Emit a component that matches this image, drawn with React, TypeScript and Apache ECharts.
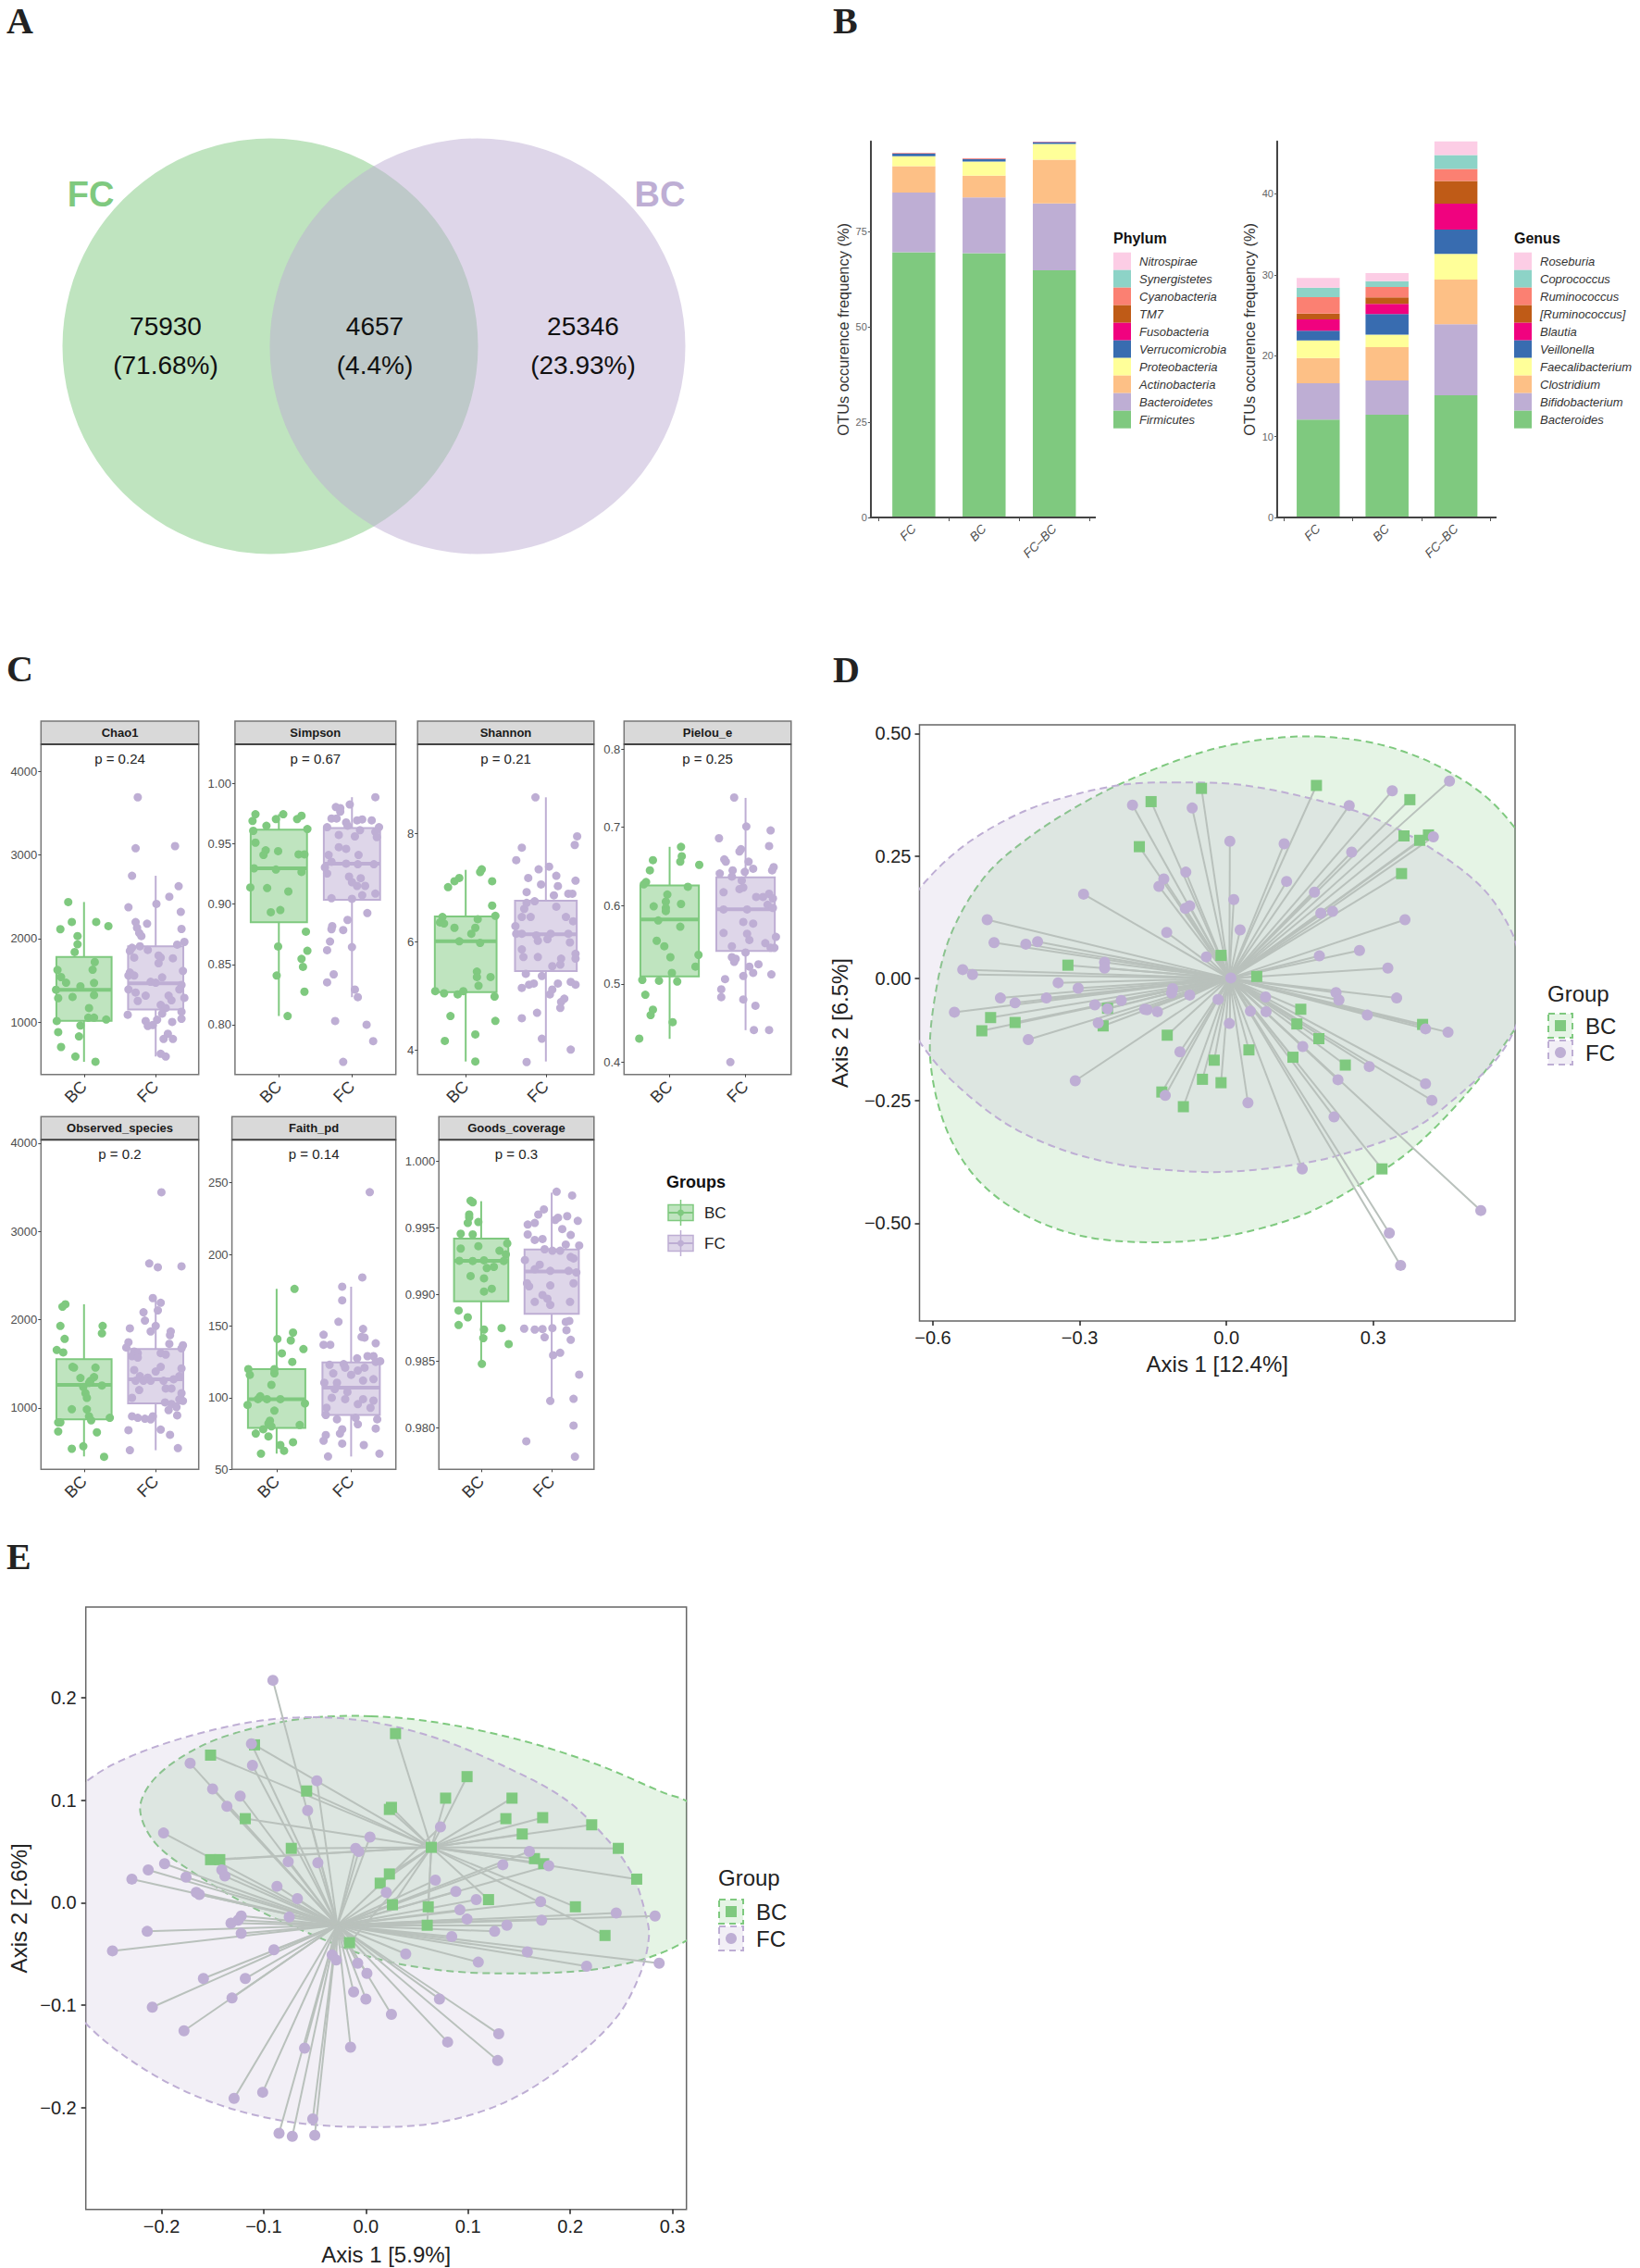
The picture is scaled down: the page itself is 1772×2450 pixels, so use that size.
import React, { useEffect, useRef } from "react";
import * as echarts from "echarts";

const GREEN = "#7FC97F";
const PURPLE = "#BEAED4";
const SPOKE = "#b9c1bc";
const SANS = "Liberation Sans";

// ---------- B: stacked bars ----------
const barGroups = ["FC", "BC", "FC–BC"];
const phylumNames = ["Firmicutes", "Bacteroidetes", "Actinobacteria", "Proteobacteria", "Verrucomicrobia", "Fusobacteria", "TM7", "Cyanobacteria", "Synergistetes", "Nitrospirae"];
const phylumValues = [
  [69.5, 69.3, 64.8], [15.7, 14.6, 17.5], [6.9, 5.7, 11.5], [2.6, 3.7, 4.1], [0.7, 0.6, 0.5],
  [0.05, 0.05, 0.05], [0.05, 0.1, 0.03], [0.03, 0.1, 0.03], [0.02, 0.02, 0.01], [0.01, 0.02, 0.01],
];
const genusNames = ["Bacteroides", "Bifidobacterium", "Clostridium", "Faecalibacterium", "Veillonella", "Blautia", "[Ruminococcus]", "Ruminococcus", "Coprococcus", "Roseburia"];
const genusValues = [
  [12.1, 12.7, 15.1], [4.5, 4.25, 8.8], [3.1, 4.12, 5.5], [2.2, 1.53, 3.2], [1.2, 2.55, 3.0],
  [1.4, 1.25, 3.2], [0.7, 0.8, 2.8], [2.05, 1.3, 1.5], [1.15, 0.7, 1.7], [1.2, 1.0, 1.7],
];
const accent = ["#7FC97F", "#BEAED4", "#FDC086", "#FFFF99", "#386CB0", "#F0027F", "#BF5B17", "#FB8072", "#8DD3C7", "#FCCDE5"];

// ---------- C: alpha diversity ----------
const chao1BC = [[.78,2438],[.83,2200],[1.17,2200],[.67,2113],[1.34,2150],[.91,2031],[.91,1932],[.87,1840],[1.15,1720],[.63,1625],[1.12,1628],[.68,1540],[.75,1473],[1.14,1470],[.95,1429],[.61,1388],[1.14,1325],[.64,1288],[.84,1303],[1.07,1170],[.62,1015],[1.06,1055],[1.14,1055],[1.31,1033],[.95,960],[.64,882],[.93,830],[.68,704],[.88,590],[1.16,527]];
const chao1FC = [[1.75,3691],[1.72,3081],[2.27,3107],[1.67,2752],[2.32,2627],[2.19,2501],[2.01,2416],[1.62,2375],[2.35,2320],[1.72,2198],[1.88,2179],[1.74,2131],[2.36,2116],[1.77,2068],[1.8,2031],[2.4,1961],[2.3,1928],[1.67,1891],[1.78,1909],[1.64,1854],[1.89,1865],[1.7,1773],[2.04,1798],[2.24,1765],[2.07,1773],[2.04,1706],[1.64,1595],[2.38,1614],[1.62,1558],[1.7,1558],[2.09,1536],[1.93,1484],[2,1473],[2.36,1447],[1.62,1392],[1.72,1355],[1.86,1318],[2.18,1318],[2.33,1392],[2.4,1292],[1.75,1255],[2.22,1262],[2.07,1207],[2.14,1170],[2.36,1126],[1.61,1089],[2.09,1103],[1.86,1015],[2.02,1030],[2.36,1041],[1.89,956],[1.96,967],[2.23,1004],[2.17,863],[2.11,800],[2.24,800],[2.07,623],[2.14,590]];
const simpsonBC = [[.68,.9746],[.64,.969],[.83,.965],[.96,.9705],[1.06,.9746],[1.25,.9705],[1.31,.9733],[.65,.9608],[1.39,.9623],[.68,.951],[.82,.9446],[.79,.9408],[.99,.944],[1.27,.9413],[1.35,.9413],[.66,.9297],[.96,.9287],[1.31,.9267],[.61,.9138],[.84,.9133],[1.13,.9105],[.89,.8933],[1.02,.8951],[1.37,.8772],[.99,.8649],[1.39,.8613],[1.31,.8546],[1.33,.848],[.97,.8408],[1.35,.8274],[1.12,.8072]];
const simpsonFC = [[2.32,.9887],[1.78,.9805],[1.84,.9797],[1.97,.9826],[1.84,.9767],[1.72,.971],[1.79,.971],[1.92,.9677],[2.07,.9695],[2.14,.9703],[2.27,.9695],[1.66,.9638],[2.37,.9638],[1.94,.9651],[2.11,.9613],[2.32,.96],[1.82,.9574],[2.04,.9562],[2.34,.9556],[1.82,.9472],[1.92,.9459],[1.68,.9408],[2.09,.9408],[1.72,.9351],[1.63,.9305],[1.92,.9336],[2.08,.9331],[2.3,.9331],[1.66,.9254],[1.96,.9228],[2.12,.9215],[2,.9182],[2.07,.9151],[2.18,.9151],[1.72,.9049],[2,.9044],[2.14,.9074],[2.32,.9087],[2.21,.8926],[1.94,.8869],[1.73,.8818],[1.72,.8792],[1.88,.8785],[1.7,.869],[2,.8644],[1.66,.8618],[1.75,.8418],[1.66,.8351],[2.04,.8292],[2.08,.8228],[1.77,.8031],[2.2,.8],[2.29,.7864],[1.88,.7692]];
const shannonBC = [[1.2,7.34],[1.18,7.29],[.92,7.18],[.86,7.12],[.78,7.01],[1.33,7.12],[1.33,6.67],[.71,6.46],[1.37,6.48],[.68,6.36],[.73,6.34],[1.15,6.42],[.86,6.26],[1.12,6.26],[1.07,6.15],[.92,6.01],[1.18,5.98],[1.14,5.45],[1.14,5.35],[1.31,5.35],[1.16,5.19],[.62,5.09],[.73,5.05],[.9,5.03],[.97,5.09],[1.36,4.99],[.81,4.63],[1.37,4.54],[.74,4.17],[1.12,4.29],[1.12,3.79]];
const shannonFC = [[1.87,8.67],[2.39,7.95],[2.36,7.79],[1.7,7.74],[1.63,7.51],[2.04,7.39],[1.91,7.34],[1.78,7.18],[2.13,7.22],[2.37,7.13],[1.94,7.06],[2.15,7.03],[1.76,6.92],[2.1,6.86],[2.28,6.89],[2.33,6.89],[1.86,6.75],[1.76,6.72],[1.73,6.61],[2.13,6.65],[2.25,6.46],[2.34,6.38],[1.62,6.29],[1.7,6.46],[1.81,6.46],[1.63,6.15],[1.7,6.15],[1.88,6.12],[2.06,6.15],[2.28,6.15],[2.3,5.99],[1.9,6.02],[2.02,6.05],[1.7,5.86],[2.37,5.78],[1.9,5.72],[1.72,5.72],[2.19,5.69],[2.18,5.58],[2.08,5.55],[2.37,5.69],[1.75,5.41],[1.95,5.37],[2.15,5.23],[2.31,5.26],[2.37,5.21],[1.85,5.23],[1.79,5.21],[1.7,5.15],[2.08,5.12],[2.05,5.03],[2.23,4.95],[2.19,4.89],[2.18,4.78],[1.89,4.69],[1.7,4.59],[1.95,4.21],[2.31,4.01],[1.76,3.78]];
const pielouBC = [[1.15,.675],[.78,.658],[1.16,.663],[1.14,.656],[1.39,.652],[.74,.645],[.69,.63],[.66,.627],[1.24,.624],[.97,.614],[.95,.605],[.79,.599],[.95,.597],[.95,.593],[1.15,.602],[.85,.581],[1.14,.573],[.83,.555],[.93,.548],[1.01,.534],[1.38,.537],[1.34,.522],[1.03,.514],[.64,.505],[.86,.504],[1.1,.503],[.68,.486],[.78,.467],[.75,.46],[1.04,.451],[.6,.43]];
const pielouFC = [[1.85,.738],[2.01,.701],[2.33,.696],[1.65,.686],[2.31,.676],[1.94,.672],[1.92,.669],[1.72,.659],[1.74,.656],[2.04,.656],[2.37,.649],[2.35,.645],[1.66,.641],[1.83,.645],[1.99,.643],[2.1,.647],[1.82,.637],[1.95,.632],[1.92,.621],[1.97,.623],[1.71,.617],[2.14,.611],[2.23,.611],[2.31,.615],[2.36,.609],[2.02,.595],[1.71,.595],[2.29,.601],[2.36,.597],[1.97,.579],[2.1,.577],[1.71,.565],[2.02,.564],[2.4,.56],[2.05,.556],[2.26,.552],[1.82,.548],[2.33,.546],[2.38,.546],[2,.54],[1.82,.534],[1.87,.532],[1.85,.528],[2.05,.522],[2.17,.525],[2.1,.514],[2.34,.512],[1.97,.51],[1.73,.506],[1.68,.493],[1.68,.483],[1.97,.48],[2.13,.472],[2.11,.441],[2.31,.441],[1.8,.4]];
const observedBC = [[.74,2175],[.7,2147],[.67,1930],[1.26,1930],[1.25,1846],[.73,1783],[.62,1657],[.71,1630],[.84,1465],[.86,1458],[1.16,1458],[.95,1339],[1.14,1350],[1.09,1308],[1.07,1283],[1.25,1255],[.99,1238],[1.02,1168],[1.04,1115],[.83,986],[1.04,983],[1.07,906],[1.1,860],[1.36,888],[.64,836],[.67,836],[.64,734],[1.18,724],[.83,538],[.99,566],[1.28,447]];
const observedFC = [[2.08,3444],[1.91,2637],[2.03,2595],[2.36,2605],[1.96,2245],[2.07,2192],[1.83,2084],[2.03,2105],[1.64,1902],[1.85,1990],[2,1930],[1.93,1867],[2.21,1867],[2.2,1825],[1.62,1745],[2.19,1727],[2.38,1710],[2.36,1675],[1.59,1685],[1.7,1640],[1.75,1622],[1.67,1587],[1.75,1570],[2.07,1622],[2.14,1605],[2.07,1465],[1.7,1430],[2.36,1448],[2,1413],[1.78,1360],[1.89,1343],[2.33,1360],[1.72,1308],[1.83,1308],[1.93,1308],[2.11,1308],[2.25,1325],[2.14,1220],[2.22,1220],[1.77,1203],[2.36,1168],[1.67,1115],[2.33,1098],[2.38,1080],[2.13,1063],[2.22,1045],[1.67,906],[1.75,888],[1.85,878],[1.93,871],[1.96,906],[2.29,1010],[2.18,976],[2.3,916],[1.62,748],[2.07,755],[2.2,696],[1.64,521],[2.31,545]];
const faithBC = [[1.24,176],[1.22,145.5],[1.01,141],[1.19,140],[1.36,134],[1.07,131],[1.21,125],[.62,120],[.64,116],[.97,120],[.97,117],[.93,109],[.78,101],[1.05,99],[.75,99],[.87,99],[.61,95],[1.38,96],[.97,91],[.91,84],[.89,82],[1.31,81],[.82,78],[.93,80],[.72,75],[.89,73],[1.05,67],[1.22,69],[1.1,63],[.79,61]];
const faithFC = [[2.25,243.5],[2.15,184],[1.88,177.5],[1.88,168],[1.83,153],[2.16,148],[1.63,144],[2.14,142.5],[2.18,142],[1.63,137],[1.72,137],[2.33,138],[2.22,129],[2.3,129],[2.08,127.5],[2.33,125],[2.39,125.5],[1.71,123],[1.9,123.5],[1.92,121],[2.09,119],[2.18,121],[1.76,117],[2,116],[1.64,110.5],[1.81,110.5],[2.16,112],[2.3,113],[1.78,106],[1.95,104],[1.74,100],[1.92,99],[2.16,99],[2.3,98],[1.67,93],[2.09,95.5],[2.26,93],[1.66,88],[1.81,85],[2.06,86],[2.35,85],[2.09,81.5],[1.88,78],[1.85,75],[2.33,78.5],[1.66,74],[1.63,70],[1.88,68],[2.17,67],[1.69,59],[2.38,61]];
const goodsBC = [[.85,.99704],[.88,.99692],[.83,.996],[.83,.99579],[.81,.99537],[.96,.99544],[.71,.99456],[.88,.99451],[1.37,.99384],[.96,.99363],[.71,.99345],[1.26,.99329],[1.35,.99301],[.69,.99254],[.88,.99252],[1.04,.99257],[1.32,.99252],[1.18,.99208],[1.08,.99199],[.85,.99139],[1.04,.99122],[1.15,.99044],[1.04,.99023],[.68,.98881],[.81,.9883],[.68,.98772],[1.04,.98738],[1.29,.98749],[1.03,.98673],[1.39,.98629],[1.01,.98481]];
const goodsFC = [[2.07,.99771],[2.29,.99743],[1.89,.99639],[1.81,.996],[1.66,.99525],[1.76,.99537],[2.09,.99576],[2.05,.9956],[2.22,.99588],[2.37,.99553],[2.15,.99491],[1.66,.99451],[2.27,.99447],[1.76,.9941],[1.87,.99417],[2.39,.99368],[2.2,.99375],[1.9,.9934],[2.01,.99329],[2.12,.99329],[1.62,.99259],[2.27,.99282],[2.31,.99271],[1.83,.99224],[1.76,.9919],[1.98,.99178],[2.24,.99178],[2.35,.99166],[1.65,.99085],[1.68,.99062],[1.98,.99069],[2.31,.99085],[1.87,.98997],[1.94,.98969],[1.76,.98946],[1.98,.98923],[2.26,.98946],[1.61,.98745],[1.76,.98738],[1.87,.98742],[2.01,.98749],[2.2,.98796],[2.25,.98803],[2.21,.98733],[1.9,.9868],[2.27,.98661],[2.02,.98546],[2.12,.98564],[2.39,.984],[1.98,.98203],[2.31,.98219],[2.31,.98019],[1.64,.97901],[2.33,.97785]];

// box stats: low whisker, Q1, median, Q3, high whisker
const chao1Box = [[527,1018,1388,1780,2438],[590,1152,1466,1909,2752]];
const simpsonBox = [[.8072,.8849,.9297,.9618,.9746],[.8228,.9036,.9336,.9631,.9887]];
const shannonBox = [[3.79,5.07,6.01,6.47,7.33],[3.79,5.46,6.14,6.76,8.67]];
const pielouBox = [[.4297,.5095,.5822,.6257,.675],[.4408,.5419,.5953,.636,.7375]];
const observedBox = [[451,871,1262,1553,2175],[521,1052,1325,1668,2234]];
const faithBox = [[61,79,99,120,176],[59,88,107,124.6,177.5]];
const goodsBox = [[.9848,.98949,.99254,.9942,.997],[.982,.98856,.99173,.99338,.99764]];

// ---------- D: PCoA ----------
const dCentre = [0.006, 0.0];
const dFC = [[.456,.403],[.339,.383],[.251,.353],[.423,.289],[.256,.258],[.118,.275],[.007,.28],[-.07,.348],[-.192,.354],[-.083,.217],[-.128,.203],[-.138,.188],[-.292,.172],[.015,.161],[.123,.198],[.18,.176],[.193,.133],[.217,.137],[.365,.12],[.028,.099],[-.075,.148],[-.084,.143],[-.122,.094],[-.489,.12],[-.475,.073],[-.41,.07],[-.386,.075],[.272,.057],[.19,.046],[-.041,.044],[-.249,.033],[-.249,.021],[.33,.021],[-.539,.018],[-.519,.008],[.009,.001],[-.344,-.009],[-.303,-.02],[-.11,-.021],[-.112,-.03],[-.075,-.034],[.08,-.038],[.224,-.029],[.23,-.044],[.348,-.04],[-.462,-.04],[-.368,-.04],[-.432,-.05],[-.215,-.045],[-.269,-.054],[-.243,-.062],[-.017,-.043],[-.167,-.063],[-.162,-.064],[-.141,-.068],[.049,-.067],[.081,-.068],[.288,-.075],[-.556,-.069],[-.262,-.091],[.006,-.092],[.407,-.103],[.453,-.11],[-.405,-.125],[.156,-.139],[-.095,-.15],[.292,-.18],[.228,-.207],[-.309,-.209],[.407,-.215],[.42,-.249],[-.125,-.239],[.044,-.254],[.22,-.283],[.155,-.389],[.52,-.474],[.333,-.52],[.356,-.586]];
const dBC = [[.184,.394],[-.051,.388],[-.154,.361],[.375,.365],[.363,.291],[.413,.293],[.395,.282],[-.178,.269],[.358,.214],[-.011,.047],[.062,.004],[-.324,.027],[-.243,-.061],[.152,-.063],[-.482,-.08],[-.432,-.09],[-.5,-.107],[-.252,-.097],[.144,-.093],[.401,-.094],[-.121,-.116],[.189,-.123],[.046,-.146],[.136,-.161],[-.025,-.167],[.243,-.177],[-.049,-.206],[-.011,-.213],[-.132,-.232],[-.088,-.262],[.318,-.389]];
const dEllipseBC = [[.187,.494],[.308,.479],[.42,.44],[.522,.378],[.59,.307],[.643,.222],[.669,.115],[.653,-.001],[.59,-.103],[.501,-.224],[.38,-.348],[.268,-.424],[.146,-.487],[-.016,-.529],[-.158,-.539],[-.3,-.525],[-.422,-.478],[-.513,-.406],[-.574,-.304],[-.605,-.17],[-.597,-.045],[-.564,.088],[-.493,.209],[-.402,.289],[-.29,.36],[-.179,.414],[-.047,.463],[.075,.488]];
const dEllipseFC = [[-.097,.4],[-.199,.397],[-.3,.378],[-.412,.342],[-.524,.28],[-.605,.209],[-.661,.133],[-.691,.044],[-.676,-.054],[-.627,-.13],[-.564,-.206],[-.453,-.295],[-.341,-.348],[-.219,-.38],[-.097,-.393],[0,-.395],[.116,-.384],[.227,-.362],[.38,-.308],[.481,-.233],[.562,-.152],[.603,-.063],[.603,.017],[.582,.097],[.522,.186],[.41,.271],[.288,.333],[.166,.369],[.024,.396]];

// ---------- E: PCoA ----------
const eCentreBC = [0.064, 0.054];
const eCentreFC = [-0.028, -0.022];
const eFC = [[-.091,.217],[-.112,.155],[-.111,.134],[-.172,.136],[-.048,.119],[-.15,.111],[-.123,.104],[-.136,.094],[-.057,.09],[-.198,.068],[.073,.074],[.004,.064],[.16,.05],[-.01,.053],[-.007,.05],[-.213,.032],[-.197,.038],[-.229,.023],[-.176,.025],[-.141,.032],[-.138,.026],[-.076,.04],[-.047,.039],[.134,.037],[.179,.036],[.068,.022],[-.087,.016],[-.166,.01],[-.163,.008],[.02,.01],[.088,.011],[-.067,.004],[.108,.003],[.171,.001],[.092,-.007],[.245,-.01],[.283,-.013],[-.122,-.013],[-.075,-.014],[-.132,-.02],[-.125,-.017],[.099,-.016],[.172,-.017],[.138,-.022],[.126,-.028],[-.214,-.028],[-.122,-.03],[.084,-.033],[-.248,-.047],[-.09,-.046],[.158,-.048],[.039,-.05],[-.033,-.051],[-.029,-.056],[-.008,-.059],[.11,-.058],[.216,-.062],[.287,-.059],[.001,-.069],[-.159,-.074],[-.118,-.074],[-.012,-.087],[0,-.094],[-.131,-.093],[.072,-.094],[-.209,-.102],[.025,-.109],[-.178,-.125],[.13,-.128],[.08,-.136],[-.06,-.142],[-.015,-.141],[.129,-.154],[-.101,-.185],[-.129,-.191],[-.052,-.211],[-.085,-.225],[-.072,-.228],[-.05,-.227]];
const eBC = [[.029,.165],[-.152,.144],[-.109,.154],[.099,.123],[-.058,.109],[.078,.102],[.143,.102],[.025,.093],[.023,.091],[-.118,.082],[.137,.082],[.173,.083],[.221,.076],[.153,.067],[.064,.054],[-.073,.053],[.247,.053],[-.152,.042],[-.143,.042],[.165,.043],[.174,.038],[.265,.023],[.023,.028],[.014,.019],[.12,.003],[.026,-.002],[.061,-.004],[.205,-.004],[.06,-.022],[.234,-.032],[-.016,-.039]];
const eEllipseBC = [[.005,.182],[.069,.176],[.15,.159],[.226,.135],[.292,.107],[.314,.099],[.353,.066],[.363,.027],[.338,-.016],[.312,-.038],[.272,-.055],[.216,-.066],[.14,-.069],[.074,-.066],[.008,-.054],[-.053,-.031],[-.114,-.003],[-.165,.027],[-.206,.058],[-.221,.092],[-.206,.122],[-.165,.151],[-.119,.168],[-.058,.18]];
const eEllipseFC = [[-.053,.181],[-.114,.176],[-.185,.159],[-.241,.138],[-.274,.118],[-.317,.079],[-.332,.019],[-.317,-.059],[-.274,-.118],[-.216,-.163],[-.15,-.195],[-.074,-.214],[.008,-.219],[.074,-.214],[.14,-.193],[.201,-.154],[.246,-.111],[.269,-.068],[.277,-.033],[.274,-.012],[.261,.027],[.236,.062],[.195,.101],[.14,.131],[.074,.159],[.008,.176]];

// ---------- layout ----------
const alphaPanels = [
  { title: "Chao1", p: "p = 0.24", rect: [44.3, 804, 170.4, 356.7], y: [375, 4325], ticks: [1000, 2000, 3000, 4000], dp: 0, box: chao1Box, bc: chao1BC, fc: chao1FC },
  { title: "Simpson", p: "p = 0.67", rect: [253.9, 804, 173.8, 356.7], y: [0.7587, 1.0326], ticks: [0.8, 0.85, 0.9, 0.95, 1], dp: 2, box: simpsonBox, bc: simpsonBC, fc: simpsonFC },
  { title: "Shannon", p: "p = 0.21", rect: [451.2, 804, 190.6, 356.7], y: [3.55, 9.65], ticks: [4, 6, 8], dp: 0, box: shannonBox, bc: shannonBC, fc: shannonFC },
  { title: "Pielou_e", p: "p = 0.25", rect: [674.3, 804, 180.5, 356.7], y: [0.3842, 0.806], ticks: [0.4, 0.5, 0.6, 0.7, 0.8], dp: 1, box: pielouBox, bc: pielouBC, fc: pielouFC },
  { title: "Observed_species", p: "p = 0.2", rect: [44.3, 1231.3, 170.4, 356], y: [304, 4038], ticks: [1000, 2000, 3000, 4000], dp: 0, box: observedBox, bc: observedBC, fc: observedFC },
  { title: "Faith_pd", p: "p = 0.14", rect: [250.6, 1231.3, 177.1, 356], y: [50, 280], ticks: [50, 100, 150, 200, 250], dp: 0, box: faithBox, bc: faithBC, fc: faithFC },
  { title: "Goods_coverage", p: "p = 0.3", rect: [474.2, 1231.3, 167.6, 356], y: [0.9769, 1.0016], ticks: [0.98, 0.985, 0.99, 0.995, 1], dp: 3, box: goodsBox, bc: goodsBC, fc: goodsFC },
];

function buildOption() {
  const grid: any[] = [];
  const xAxis: any[] = [];
  const yAxis: any[] = [];
  const series: any[] = [];
  const g: any[] = [];

  const text = (t: string, x: number, y: number, o: any = {}) => {
    g.push({
      type: "text", x, y, z: 100,
      style: { text: t, fontFamily: SANS, fill: "#1a1a1a", align: "center", verticalAlign: "middle", fontSize: 14, ...o },
    });
  };
  const addGrid = (rect: number[], show = false, border = "#777", bw = 1.5) => {
    grid.push({ left: rect[0], top: rect[1], width: rect[2], height: rect[3], show, borderColor: border, borderWidth: bw, backgroundColor: "transparent", containLabel: false });
    return grid.length - 1;
  };

  // letters
  [["A", 7, 22], ["B", 900, 22], ["C", 7, 722], ["D", 900, 723], ["E", 7, 1681]].forEach(([t, x, y]: any) =>
    text(t, x, y, { fontFamily: "Liberation Serif", fontWeight: "bold", fontSize: 40, align: "left", fill: "#222" })
  );

  // ---- A: Venn ----
  const a = addGrid([292, 150, 224, 448]);
  xAxis.push({ gridIndex: a, type: "value", min: 0, max: 1, show: false });
  yAxis.push({ gridIndex: a, type: "value", min: 0, max: 1, show: false });
  [[0, GREEN, "FC set"], [1, PURPLE, "BC set"]].forEach(([x, c, n]: any) =>
    series.push({ type: "scatter", name: n, xAxisIndex: a, yAxisIndex: a, clip: false, symbol: "circle", symbolSize: 449, silent: true, itemStyle: { color: c, opacity: 0.5 }, data: [[x, 0.5]] })
  );
  text("FC", 98, 210, { fontSize: 38, fontWeight: "bold", fill: GREEN });
  text("BC", 713, 210, { fontSize: 38, fontWeight: "bold", fill: PURPLE });
  [["75930", "(71.68%)", 179], ["4657", "(4.4%)", 405], ["25346", "(23.93%)", 630]].forEach(([v, p, x]: any) => {
    text(v, x, 352, { fontSize: 28, fill: "#111" });
    text(p, x, 394, { fontSize: 28, fill: "#111" });
  });

  // ---- B ----
  const addBars = (key: string, rect: number[], offset: number, lineEnd: number, yMax: number, ticks: number[], names: string[], values: number[][], legendLeft: number, legendTitle: string) => {
    const i = addGrid(rect);
    xAxis.push({
      gridIndex: i, type: "category", data: barGroups,
      axisLine: { show: false, onZero: false }, axisTick: { show: true, length: 4, lineStyle: { color: "#555" } },
      axisLabel: { rotate: 45, fontStyle: "italic", fontSize: 13.5, color: "#4d4d4d", margin: 10, fontFamily: SANS },
    });
    yAxis.push({
      gridIndex: i, type: "value", min: 0, max: yMax, offset, splitLine: { show: false },
      axisLine: { show: true, onZero: false, lineStyle: { color: "#444", width: 2 } },
      axisTick: { show: true, length: 3, lineStyle: { color: "#555" }, customValues: ticks },
      axisLabel: { fontSize: 11, color: "#666", margin: 4, customValues: ticks, fontFamily: SANS },
      name: "OTUs occurence frequency (%)", nameLocation: "middle", nameGap: 22,
      nameTextStyle: { fontSize: 16.4, color: "#333", fontFamily: SANS },
    });
    names.forEach((n, k) => series.push({
      type: "bar", name: n, stack: key, xAxisIndex: i, yAxisIndex: i, barWidth: 46.5,
      itemStyle: { color: accent[k] }, data: values[k],
    }));
    g.push({ type: "line", z: 100, shape: { x1: rect[0] - offset - 1, y1: rect[1] + rect[3], x2: lineEnd, y2: rect[1] + rect[3] }, style: { stroke: "#444", lineWidth: 2 } });
    text(legendTitle, legendLeft, 257, { fontSize: 16, fontWeight: "bold", align: "left", fill: "#111" });
    return {
      left: legendLeft, top: 272.7, orient: "vertical", icon: "rect", itemWidth: 19, itemHeight: 19, itemGap: 0, padding: 0,
      data: names.slice().reverse(),
      textStyle: { fontSize: 13, fontStyle: "italic", color: "#333", fontFamily: SANS, padding: [0, 0, 0, 4] },
      selectedMode: false,
    };
  };
  const legend = [
    addBars("phylum", [949.45, 152.7, 227.7, 406.3], 8.65, 1184, 98.6, [0, 25, 50, 75], phylumNames, phylumValues, 1203, "Phylum"),
    addBars("genus", [1387.1, 152.7, 223.2, 406.3], 7.1, 1617, 46.5, [0, 10, 20, 30, 40], genusNames, genusValues, 1636, "Genus"),
  ];

  // ---- C ----
  const boxSeries = (i: number, row: number[], x: number, color: string, name: string) => ({
    type: "custom", name, xAxisIndex: i, yAxisIndex: i, silent: true,
    encode: { x: 0, y: [1, 2, 3, 4, 5] },
    data: [[x, ...row]],
    renderItem: (_: any, api: any) => {
      const v = [0, 1, 2, 3, 4, 5].map((d) => api.value(d));
      const hw = 0.385;
      const tl = api.coord([v[0] - hw, v[4]]);
      const br = api.coord([v[0] + hw, v[2]]);
      const low = api.coord([v[0], v[1]]);
      const high = api.coord([v[0], v[5]]);
      const m = api.coord([v[0], v[3]]);
      const line = (x1: number, y1: number, x2: number, y2: number, w: number) => ({ type: "line", shape: { x1, y1, x2, y2 }, style: { stroke: color, lineWidth: w } });
      return {
        type: "group",
        children: [
          { type: "rect", shape: { x: tl[0], y: tl[1], width: br[0] - tl[0], height: br[1] - tl[1] }, style: { fill: color, opacity: 0.5 } },
          { type: "rect", shape: { x: tl[0], y: tl[1], width: br[0] - tl[0], height: br[1] - tl[1] }, style: { fill: "none", stroke: color, lineWidth: 2 } },
          line(m[0], high[1], m[0], tl[1], 2),
          line(m[0], br[1], m[0], low[1], 2),
          line(tl[0], m[1], br[0], m[1], 4),
        ],
      };
    },
  });
  alphaPanels.forEach((P) => {
    const i = addGrid(P.rect, true, "#777", 1.5);
    xAxis.push({
      gridIndex: i, type: "value", min: 0.4, max: 2.6, splitLine: { show: false },
      axisLine: { show: false, onZero: false },
      axisTick: { show: true, length: 3, customValues: [1, 2], lineStyle: { color: "#444" } },
      axisLabel: { customValues: [1, 2], rotate: 45, fontSize: 18, color: "#333", margin: 10, fontFamily: SANS, formatter: (v: number) => (v === 1 ? "BC" : "FC") },
    });
    yAxis.push({
      gridIndex: i, type: "value", min: P.y[0], max: P.y[1], splitLine: { show: false },
      axisLine: { show: false, onZero: false },
      axisTick: { show: true, length: 3, customValues: P.ticks, lineStyle: { color: "#444" } },
      axisLabel: { customValues: P.ticks, fontSize: 13, color: "#4d4d4d", margin: 4, fontFamily: SANS, formatter: (v: number) => v.toFixed(P.dp) },
    });
    series.push(boxSeries(i, P.box[0], 1, GREEN, P.title + " BC box"));
    series.push(boxSeries(i, P.box[1], 2, PURPLE, P.title + " FC box"));
    series.push({ type: "scatter", name: P.title + " BC", xAxisIndex: i, yAxisIndex: i, symbolSize: 9, silent: true, itemStyle: { color: GREEN, opacity: 1 }, data: P.bc });
    series.push({ type: "scatter", name: P.title + " FC", xAxisIndex: i, yAxisIndex: i, symbolSize: 9, silent: true, itemStyle: { color: PURPLE, opacity: 1 }, data: P.fc });
    const [l, t, w] = P.rect;
    g.push({ type: "rect", z: 90, shape: { x: l, y: t - 25, width: w, height: 25 }, style: { fill: "#d9d9d9", stroke: "#777", lineWidth: 1.5 } });
    g.push({ type: "line", z: 91, shape: { x1: l, y1: t, x2: l + w, y2: t }, style: { stroke: "#444", lineWidth: 2 } });
    text(P.title, l + w / 2, t - 12.5, { fontSize: 13, fontWeight: "bold" });
    text(P.p, l + w / 2, t + 15, { fontSize: 15, fill: "#222" });
  });
  // Groups legend
  text("Groups", 720, 1277, { fontSize: 18, fontWeight: "bold", align: "left", fill: "#111" });
  [["BC", GREEN, 1310], ["FC", PURPLE, 1343]].forEach(([n, c, y]: any) => {
    const kx = 735.5;
    g.push({ type: "line", z: 100, shape: { x1: kx, y1: y - 14, x2: kx, y2: y + 14 }, style: { stroke: c, lineWidth: 1.5 } });
    g.push({ type: "rect", z: 100, shape: { x: kx - 13.5, y: y - 8.5, width: 27, height: 17 }, style: { fill: c, opacity: 0.5 } });
    g.push({ type: "rect", z: 100, shape: { x: kx - 13.5, y: y - 8.5, width: 27, height: 17 }, style: { fill: "none", stroke: c, lineWidth: 1.5 } });
    g.push({ type: "line", z: 100, shape: { x1: kx - 13.5, y1: y, x2: kx + 13.5, y2: y }, style: { stroke: c, lineWidth: 2 } });
    g.push({ type: "circle", z: 101, shape: { cx: kx, cy: y, r: 3.5 }, style: { fill: c } });
    text(n, 761, y, { fontSize: 17, align: "left", fill: "#222" });
  });

  // ---- D & E ----
  const ellipse = (i: number, pts: number[][], color: string, alpha: number, name: string) => ({
    type: "custom", name, xAxisIndex: i, yAxisIndex: i, clip: true, silent: true,
    encode: { x: 0, y: 1 },
    data: pts,
    renderItem: (params: any, api: any) => {
      if (params.dataIndex !== 0) return null;
      const points = pts.map((p) => api.coord(p));
      return {
        type: "group",
        children: [
          { type: "polygon", shape: { points, smooth: 0.33 }, style: { fill: color, opacity: alpha } },
          { type: "polygon", shape: { points, smooth: 0.33 }, style: { fill: "none", stroke: color, lineWidth: 2, lineDash: [8, 5] } },
        ],
      };
    },
  });
  const spokes = (i: number, pts: number[][], c: number[], name: string) => ({
    type: "lines", name, coordinateSystem: "cartesian2d", xAxisIndex: i, yAxisIndex: i, silent: true, polyline: false,
    lineStyle: { color: SPOKE, width: 2, opacity: 1 },
    data: pts.map((p) => ({ coords: [p, c] })),
  });
  const pcoa = (rect: number[], xr: number[], yr: number[], xt: number[], yt: number[], xdp: number, ydp: number, xName: string, yName: string, xGap: number, yGap: number, xm: number, ym: number) => {
    const i = addGrid(rect, true, "#666", 1.5);
    const fmt = (dp: number) => (v: number) => v.toFixed(dp).replace("-", "−");
    const common = (ticks: number[], dp: number, margin: number) => ({
      gridIndex: i, type: "value", splitLine: { show: false }, axisLine: { show: false, onZero: false },
      axisTick: { show: true, length: 5, customValues: ticks, lineStyle: { color: "#222", width: 1.5 } },
      axisLabel: { customValues: ticks, fontSize: 20, color: "#222", margin, fontFamily: SANS, formatter: fmt(dp) },
      nameLocation: "middle", nameTextStyle: { fontSize: 24, color: "#222", fontFamily: SANS },
    });
    xAxis.push({ ...common(xt, xdp, xm), min: xr[0], max: xr[1], name: xName, nameGap: xGap });
    yAxis.push({ ...common(yt, ydp, ym), min: yr[0], max: yr[1], name: yName, nameGap: yGap });
    return i;
  };
  const scatterPts = (i: number, pts: number[][], sym: string, c: string, name: string) => ({
    type: "scatter", name, xAxisIndex: i, yAxisIndex: i, symbol: sym, symbolSize: 12, silent: true, itemStyle: { color: c, opacity: 1 }, data: pts,
  });
  const keyLegend = (x: number, titleY: number, y1: number, y2: number) => {
    text("Group", x - 14, titleY, { fontSize: 24, align: "left", fill: "#222" });
    [["BC", GREEN, y1, "rect"], ["FC", PURPLE, y2, "circle"]].forEach(([n, c, y, s]: any) => {
      g.push({ type: "rect", z: 100, shape: { x: x - 13, y: y - 13, width: 26, height: 26 }, style: { fill: c, opacity: 0.2 } });
      g.push({ type: "rect", z: 100, shape: { x: x - 13, y: y - 13, width: 26, height: 26 }, style: { fill: "none", stroke: c, lineWidth: 2, lineDash: [7, 5] } });
      if (s === "rect") g.push({ type: "rect", z: 101, shape: { x: x - 6, y: y - 6, width: 12, height: 12 }, style: { fill: c } });
      else g.push({ type: "circle", z: 101, shape: { cx: x, cy: y, r: 6 }, style: { fill: c } });
      text(n, x + 27, y, { fontSize: 24, align: "left", fill: "#222" });
    });
  };

  const d = pcoa([993.5, 783, 643.5, 644], [-0.6274, 0.59], [-0.6996, 0.5178], [-0.6, -0.3, 0, 0.3], [-0.5, -0.25, 0, 0.25, 0.5], 1, 2, "Axis 1 [12.4%]", "Axis 2 [6.5%]", 34, 74, 8, 9);
  series.push(ellipse(d, dEllipseBC, GREEN, 0.2, "D ellipse BC"), ellipse(d, dEllipseFC, PURPLE, 0.2, "D ellipse FC"));
  series.push(spokes(d, dFC, dCentre, "D spokes FC"), spokes(d, dBC, dCentre, "D spokes BC"));
  series.push(scatterPts(d, dBC, "rect", GREEN, "D BC"), scatterPts(d, dFC, "circle", PURPLE, "D FC"));
  keyLegend(1686, 1073, 1108, 1137);

  const e = pcoa([92.7, 1736, 649, 650.7], [-0.2741, 0.3137], [-0.2993, 0.2885], [-0.2, -0.1, 0, 0.1, 0.2, 0.3], [-0.2, -0.1, 0, 0.1, 0.2], 1, 1, "Axis 1 [5.9%]", "Axis 2 [2.6%]", 37, 60, 8, 10);
  series.push(ellipse(e, eEllipseBC, GREEN, 0.2, "E ellipse BC"), ellipse(e, eEllipseFC, PURPLE, 0.2, "E ellipse FC"));
  series.push(spokes(e, eFC, eCentreFC, "E spokes FC"), spokes(e, eBC, eCentreBC, "E spokes BC"));
  series.push(scatterPts(e, eBC, "rect", GREEN, "E BC"), scatterPts(e, eFC, "circle", PURPLE, "E FC"));
  keyLegend(790, 2028, 2065, 2094);

  return {
    animation: false,
    backgroundColor: "#ffffff",
    textStyle: { fontFamily: SANS },
    grid, xAxis, yAxis, series, legend,
    graphic: { elements: g },
  };
}

export default function App() {
  const ref = useRef<HTMLDivElement>(null);
  useEffect(() => {
    document.body.style.margin = "0";
    const chart = echarts.init(ref.current!, undefined, { renderer: "svg" });
    chart.setOption(buildOption() as any);
    return () => chart.dispose();
  }, []);
  return <div ref={ref} style={{ width: 1772, height: 2450 }} />;
}
